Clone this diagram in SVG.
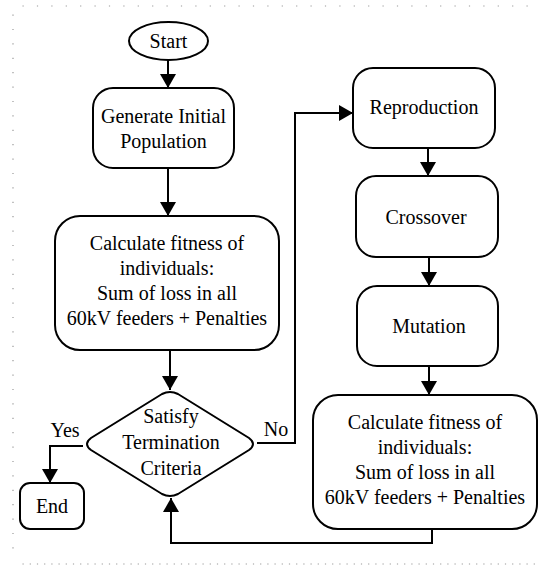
<svg xmlns="http://www.w3.org/2000/svg" width="540" height="566" viewBox="0 0 540 566">
<defs>
<style>
.box{fill:#fff;stroke:#000;stroke-width:2}
.t{font-family:"Liberation Serif",Tinos,"Times New Roman",Times,"DejaVu Serif",serif;font-size:20px;fill:#000;text-anchor:middle}
.c{fill:none;stroke:#000;stroke-width:2}
.dot{fill:none;stroke:#999;stroke-width:1.2}
</style>
<marker id="ah" markerUnits="userSpaceOnUse" markerWidth="16" markerHeight="16" refX="14" refY="8" orient="auto">
<path d="M0,0 L14,8 L0,16 z" fill="#000"/>
</marker>
</defs>
<g id="frame">
<line class="dot" x1="22.5" y1="6" x2="540" y2="6" stroke-dasharray="1.2 13.2"/>
<line class="dot" x1="13" y1="14.5" x2="13" y2="560" stroke-dasharray="1.2 13.2"/>
<line class="dot" x1="22.5" y1="564" x2="540" y2="564" stroke-dasharray="1.2 6"/>
</g>
<g id="connectors">
<line class="c" x1="168" y1="60" x2="168" y2="88" marker-end="url(#ah)"/>
<line class="c" x1="168" y1="168" x2="168" y2="216" marker-end="url(#ah)"/>
<line class="c" x1="170" y1="350" x2="170" y2="390" marker-end="url(#ah)"/>
<polyline class="c" points="83,446 50,446 50,483" marker-end="url(#ah)"/>
<polyline class="c" points="257,443 295,443 295,113 353,113" marker-end="url(#ah)"/>
<line class="c" x1="428" y1="148" x2="428" y2="176" marker-end="url(#ah)"/>
<line class="c" x1="429" y1="257" x2="429" y2="286" marker-end="url(#ah)"/>
<line class="c" x1="429" y1="366" x2="429" y2="395" marker-end="url(#ah)"/>
<polyline class="c" points="432,529 432,543 171,543 171,498" marker-end="url(#ah)"/>
</g>
<g id="start">
<ellipse class="box" cx="168.5" cy="41" rx="39.5" ry="19"/>
<text class="t" x="168.5" y="48">Start</text>
</g>
<g id="generate">
<rect class="box" x="93" y="88" width="141" height="80" rx="20"/>
<text class="t" x="163.5" y="123">Generate Initial</text>
<text class="t" x="163.5" y="148">Population</text>
</g>
<g id="fitness1">
<rect class="box" x="55" y="216" width="224" height="134" rx="25"/>
<text class="t" x="167" y="250">Calculate fitness of</text>
<text class="t" x="167" y="275">individuals:</text>
<text class="t" x="167" y="300">Sum of loss in all</text>
<text class="t" x="167" y="325">60kV feeders + Penalties</text>
</g>
<g id="decision">
<path class="box" d="M162,394 Q170,390 178,394 L249,438 Q257,444 249,450 L178,494 Q170,498 162,494 L91,450 Q83,444 91,438 Z"/>
<text class="t" x="171" y="423">Satisfy</text>
<text class="t" x="171" y="449">Termination</text>
<text class="t" x="171" y="475">Criteria</text>
</g>
<g id="labels">
<text class="t" x="65" y="437">Yes</text>
<text class="t" x="276" y="436">No</text>
</g>
<g id="end">
<rect class="box" x="20" y="483" width="64" height="46" rx="10"/>
<text class="t" x="52" y="513">End</text>
</g>
<g id="reproduction">
<rect class="box" x="353" y="68" width="142" height="80" rx="20"/>
<text class="t" x="424" y="114">Reproduction</text>
</g>
<g id="crossover">
<rect class="box" x="356" y="176" width="142" height="81" rx="20"/>
<text class="t" x="426" y="224">Crossover</text>
</g>
<g id="mutation">
<rect class="box" x="357" y="286" width="141" height="80" rx="20"/>
<text class="t" x="429" y="333">Mutation</text>
</g>
<g id="fitness2">
<rect class="box" x="313" y="395" width="224" height="134" rx="25"/>
<text class="t" x="425" y="429">Calculate fitness of</text>
<text class="t" x="425" y="454">individuals:</text>
<text class="t" x="425" y="479">Sum of loss in all</text>
<text class="t" x="425" y="504">60kV feeders + Penalties</text>
</g>
</svg>
